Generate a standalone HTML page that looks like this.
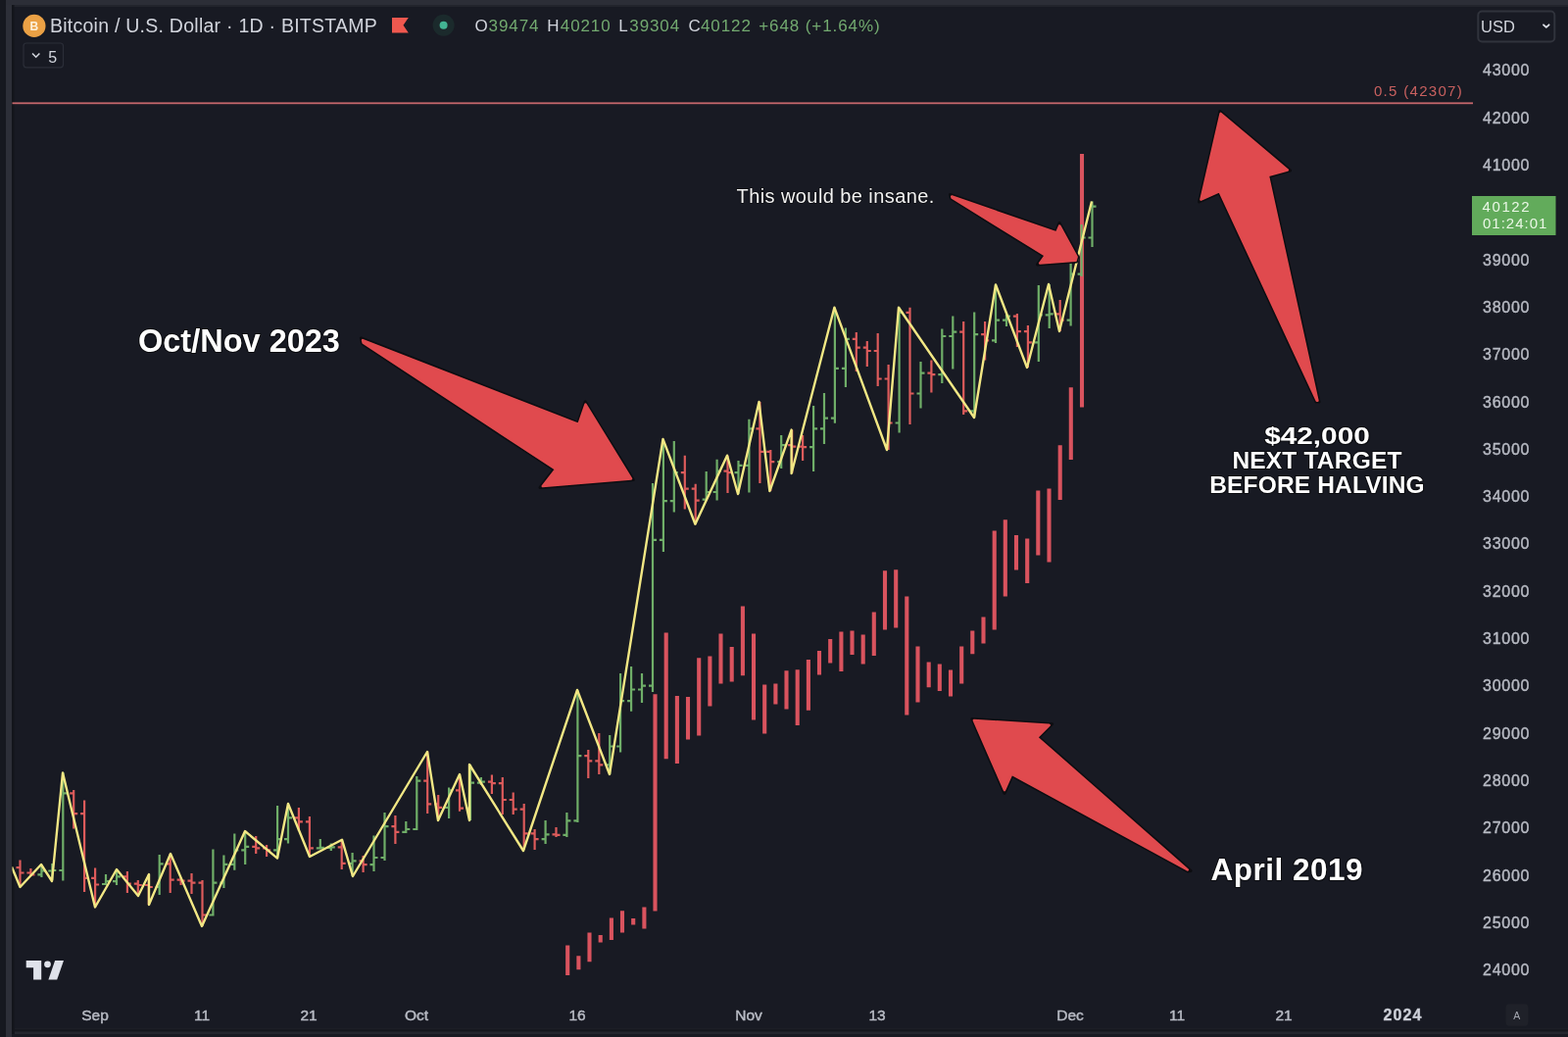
<!DOCTYPE html>
<html><head><meta charset="utf-8"><title>BTCUSD chart</title>
<style>
html,body{margin:0;padding:0;background:#181a23;}
body{width:1600px;height:1058px;overflow:hidden;position:relative;font-family:"Liberation Sans",Arial,sans-serif;}
</style></head><body>
<svg width="1600" height="1058" viewBox="0 0 1600 1058" style="position:absolute;left:0;top:0">
<rect x="0" y="0" width="1600" height="1058" fill="#181a23"/>
<rect x="0" y="0" width="1600" height="5" fill="#2c2e37"/>
<rect x="0" y="5" width="1600" height="2" fill="#22242c"/>
<rect x="0" y="0" width="6" height="1058" fill="#16181f"/>
<rect x="6" y="5" width="6" height="1058" fill="#2d2f38"/>
<rect x="12" y="5" width="2.5" height="1058" fill="#13151b"/>
<rect x="15" y="1048.7" width="1585" height="1.8" fill="#1c1e26"/><rect x="15" y="1050.5" width="1585" height="2" fill="#15171d"/>
<rect x="15" y="1052.5" width="1585" height="2.5" fill="#24262e"/>
<rect x="12" y="1055" width="1588" height="3" fill="#181a22"/>
<defs><clipPath id="cp"><rect x="12.5" y="7" width="1492" height="1040"/></clipPath></defs>
<g clip-path="url(#cp)">
<rect x="12" y="104.4" width="1491" height="1.8" fill="#c4666b"/>
<path d="M579.2 964.5V995M590.4 975.2V989.3M601.5 951.5V981.3M612.7 953.9V961.5M623.9 936.5V959M635 929.3V951.5M646.2 936.9V943.5M657.4 925.5V947.5M668.5 708.2V929.5M679.7 645.5V774.3M690.9 710.1V779M702 711V754.5M713.2 671.3V750.5M724.4 669.5V720.5M735.5 646.5V697.5M746.7 660V695.5M757.9 618.5V689.2M769 646.5V734.5M780.2 698.5V748.5M791.4 697.5V718.5M802.5 684.2V723.5M813.7 683.3V739.9M824.9 672.9V724.8M836 664V688.5M847.2 652.1V676.5M858.4 644.5V685.1M869.5 643.5V668.1M880.7 647.5V677.5M891.8 624.5V669.1M903 582.2V642.5M914.2 581.3V640.5M925.3 608.5V729.5M936.5 659.5V716.5M947.7 675.5V701.2M958.8 677.5V705M970 683.5V710.5M981.2 659.5V697.5M992.3 643.5V667.2M1003.5 629.5V656.5M1014.7 541.5V642.5M1025.8 530.2V608.5M1037 546.1V581.5M1048.2 549.5V595M1059.3 500.5V566.5M1070.5 498.5V573.5M1081.7 454.2V509.9M1092.8 395.2V469.1M1104 157.1V415.5" stroke="#d9535e" stroke-width="4.1" stroke-linecap="butt" fill="none"/>

<path d="M42.4 882V895M38.4 892.4H42.4M42.4 888.5H46.4M53.3 881V898M49.3 888.5H53.3M53.3 888H57.3M64.3 788V898.5M60.3 888H64.3M64.3 809.3H68.3M108 892V903M104 902H108M108 899.2H112M119 887V903M115 899.2H119M119 894.3H123M162.7 872V913M158.7 905H162.7M162.7 881.3H166.7M217.4 866.5V934.6M213.4 933.5H217.4M217.4 900.6H221.4M228.4 872.6V906M224.4 900.6H228.4M228.4 881.8H232.4M239.3 850.6V887.7M235.3 881.8H239.3M239.3 867.3H243.3M250.2 848V882M246.2 867.3H250.2M250.2 863.9H254.2M283.1 822V875.6M279.1 867.3H283.1M283.1 856.2H287.1M294 819.7V860.5M290 856.2H294M294 834.4H298M326.8 856V866.5M322.8 865.3H326.8M326.8 864.8H330.8M337.8 860.5V868M333.8 864.8H337.8M337.8 864.4H341.8M359.6 870V894M355.6 880.8H359.6M359.6 878.4H363.6M381.5 852.6V889M377.5 882.2H381.5M381.5 875H385.5M392.5 829V878M388.5 875H392.5M392.5 843.1H396.5M414.3 838V850M410.3 848.9H414.3M414.3 846H418.3M425.3 792V847M421.3 846H425.3M425.3 796.7H429.3M458.1 803.5V835M454.1 823.8H458.1M458.1 806.4H462.1M480 780V837M476 824.7H480M480 798.7H484M490.9 793V801M486.9 798.7H490.9M490.9 797.7H494.9M556.6 837V861M552.6 856.2H556.6M556.6 851.3H560.6M578.4 829V854M574.4 851.8H578.4M578.4 837.3H582.4M589.4 704V839M585.4 837.3H589.4M589.4 771.1H593.4M622.2 750V790M618.2 780.3H622.2M622.2 761.5H626.2M633.1 687V767.5M629.1 761.5H633.1M633.1 715.1H637.1M644.1 680V725.8M640.1 715.1H644.1M644.1 703.5H648.1M655 687V717M651 703.5H655M655 699.6H659M666 493V706M662 699.6H666M666 550.8H670M676.9 448V563M672.9 550.8H676.9M676.9 511.2H680.9M687.8 450V522.6M683.8 511.2H687.8M687.8 482.2H691.8M720.7 481V510.6M716.7 509.6H720.7M720.7 502H724.7M731.6 468.8V510.6M727.6 502H731.6M731.6 480.7H735.6M753.5 470V504M749.5 482.2H753.5M753.5 474.9H757.5M764.4 427.8V502.5M760.4 474.9H764.4M764.4 437.3H768.4M797.2 444V478M793.2 471.1H797.2M797.2 454.2H801.2M830.1 414V481M826.1 456.1H830.1M830.1 437.3H834.1M841 401V453M837 437.3H841M841 426.6H845M851.9 313.7V431.8M847.9 426.6H851.9M851.9 375.9H855.9M862.9 334.6V395M858.9 375.9H862.9M862.9 345.9H866.9M917.6 313.7V441.5M913.6 431.5H917.6M917.6 318.9H921.6M939.5 369V416.6M935.5 401.5H939.5M939.5 380.7H943.5M961.3 335.5V391M957.3 382.2H961.3M961.3 343H965.3M972.3 322.6V376.5M968.3 343H972.3M972.3 338.7H976.3M994.2 318.6V426M990.2 419.4H994.2M994.2 341.1H998.2M1016 290.5V350M1012 347.4H1016M1016 326.6H1020M1027 321V333M1023 326.6H1027M1027 322.7H1031M1059.8 291V369M1055.8 349.3H1059.8M1059.8 321.3H1063.8M1070.7 290V335M1066.7 321.3H1070.7M1070.7 320.3H1074.7M1092.6 266V332.5M1088.6 326.6H1092.6M1092.6 279.7H1096.6M1103.6 229V282M1099.6 279.7H1103.6M1103.6 242.5H1107.6M1114.5 205.5V252M1110.5 242.5H1114.5M1114.5 210.6H1118.5" stroke="#6fae68" stroke-width="2.2" fill="none"/>
<path d="M20.5 877.6V905M16.5 885.1H20.5M20.5 890.5H24.5M31.4 886V894M27.4 890.5H31.4M31.4 892.4H35.4M75.2 806V845.5M71.2 809.3H75.2M75.2 830.1H79.2M86.1 816.6V910M82.1 830.1H86.1M86.1 895.8H90.1M97.1 885.4V925.5M93.1 895.8H97.1M97.1 902.5H101.1M129.9 889V911M125.9 894.3H129.9M129.9 901.6H133.9M140.8 898V913M136.8 901.6H140.8M140.8 903H144.8M151.8 892V923M147.8 903H151.8M151.8 905H155.8M173.7 871V911M169.7 881.3H173.7M173.7 897.7H177.7M184.6 895V903M180.6 897.7H184.6M184.6 898.7H188.6M195.5 891V912M191.5 898.7H195.5M195.5 900.6H199.5M206.5 898V945M202.5 900.6H206.5M206.5 933.5H210.5M261.2 853V871M257.2 863.9H261.2M261.2 865.3H265.2M272.1 862V874M268.1 865.3H272.1M272.1 867.3H276.1M304.9 824V848M300.9 834.4H304.9M304.9 838.3H308.9M315.9 833V874M311.9 838.3H315.9M315.9 865.3H319.9M348.7 856.7V887M344.7 864.4H348.7M348.7 880.8H352.7M370.6 873V890M366.6 878.4H370.6M370.6 882.2H374.6M403.4 832V861M399.4 843.1H403.4M403.4 848.9H407.4M436.2 766.5V830M432.2 796.7H436.2M436.2 820.4H440.2M447.2 811V837M443.2 820.4H447.2M447.2 823.8H451.2M469 790V827.7M465 806.4H469M469 824.7H473M501.9 790.5V810M497.9 797.7H501.9M501.9 799.1H505.9M512.8 793V831M508.8 799.1H512.8M512.8 816H516.8M523.7 808.5V831M519.7 816H523.7M523.7 825.7H527.7M534.7 820V867M530.7 825.7H534.7M534.7 850.4H538.7M545.6 846V867M541.6 850.4H545.6M545.6 856.2H549.6M567.5 844V854M563.5 851.3H567.5M567.5 851.8H571.5M600.3 765V794M596.3 771.1H600.3M600.3 776.4H604.3M611.3 748V790M607.3 776.4H611.3M611.3 780.3H615.3M698.8 464.7V519.4M694.8 482.2H698.8M698.8 498.6H702.8M709.7 493.7V534.7M705.7 498.6H709.7M709.7 510.7H713.7M742.5 464.7V503M738.5 480.7H742.5M742.5 482.2H746.5M775.4 410V493M771.4 437.3H775.4M775.4 460.9H779.4M786.3 459V501M782.3 460.9H786.3M786.3 471.1H790.3M808.2 438.6V483M804.2 454.2H808.2M808.2 455.6H812.2M819.1 444V470M815.1 455.6H819.1M819.1 456.1H823.1M873.8 339V379M869.8 345.9H873.8M873.8 354.6H877.8M884.8 348V374M880.8 354.6H884.8M884.8 358H888.8M895.7 340V394M891.7 358H895.7M895.7 386.5H899.7M906.6 372V459M902.6 386.5H906.6M906.6 431.5H910.6M928.5 313.7V433M924.5 318.9H928.5M928.5 401.5H932.5M950.4 367.6V400.6M946.4 380.7H950.4M950.4 382.2H954.4M983.2 328V423M979.2 338.7H983.2M983.2 419.4H987.2M1005.1 328V367.6M1001.1 341.1H1005.1M1005.1 347.4H1009.1M1037.9 320V354M1033.9 322.7H1037.9M1037.9 338.2H1041.9M1048.9 332V375M1044.9 338.2H1048.9M1048.9 349.3H1052.9M1081.7 306V338M1077.7 320.3H1081.7M1081.7 326.6H1085.7" stroke="#dd5b5b" stroke-width="2.2" fill="none"/>

<polyline points="12,884.5 20.5,905 42,882 53,899 64,788.5 97,925.5 119,887 141,914 152,892 152,923 174,871 206,945 250,848 283,875.6 294,820 316,874 349,856.7 360,894 436,767 447,837 469,790 479,837 479,780 534,868 589,704 622,790 676.5,448 709.4,534.7 742,464.7 753,504 774.5,410 785.4,501 807.6,438.6 807.6,483 851.4,313.7 905,459 917,313.7 994,426 1016,290.5 1048,375 1070,290 1081,338 1114,205.5" stroke="#f2e784" stroke-width="2.4" fill="none" stroke-linejoin="round"/>

<polygon points="368.4,345 589.7,431.3 597.2,409.7 646.2,489.6 551,497.5 565.3,479 369.5,350.5" fill="#0c0d11" stroke="#0c0d11" stroke-width="3" stroke-linejoin="round"/>
<polygon points="370.1,347.1 370.7,349.7 567.2,478.7 553.8,496 644,488.5 597.5,412.7 590.5,433" fill="#e04a4e" stroke="#e04a4e" stroke-width="2.6" stroke-linejoin="round"/>
<polygon points="969.5,198.5 1077.5,236 1081,227.5 1100,262 1098.5,267 1058.5,270 1065,261 970.5,202.5" fill="#0c0d11" stroke="#0c0d11" stroke-width="3" stroke-linejoin="round"/>
<polygon points="971.3,200.5 971.6,201.7 1066.9,260.6 1061.2,268.5 1097.5,265.8 1098.6,262.1 1081.2,230.5 1078.2,237.6" fill="#e04a4e" stroke="#e04a4e" stroke-width="2.6" stroke-linejoin="round"/>
<polygon points="1244.8,113.6 1316.5,174 1295.3,180 1346,410 1343,410 1243.9,196.8 1223.6,205.9" fill="#0c0d11" stroke="#0c0d11" stroke-width="3" stroke-linejoin="round"/>
<polygon points="1245.6,116 1225.5,203.6 1244.5,195.1 1343.8,408.7 1344.4,408.7 1293.8,179.1 1313.8,173.4" fill="#e04a4e" stroke="#e04a4e" stroke-width="2.6" stroke-linejoin="round"/>
<polygon points="991.9,733.6 1073.6,738.7 1060,752.3 1215,888.5 1212,889 1032.8,791.5 1025,809.3" fill="#0c0d11" stroke="#0c0d11" stroke-width="3" stroke-linejoin="round"/>
<polygon points="993.9,735 1025,806.1 1032.2,789.7 1211.8,887.4 1058.1,752.4 1070.6,739.8" fill="#e04a4e" stroke="#e04a4e" stroke-width="2.6" stroke-linejoin="round"/>

</g>
<text x="1493" y="98.4" text-anchor="end" font-family="Liberation Sans, Arial, sans-serif" font-size="15" fill="#c8605f" letter-spacing="1.3">0.5 (42307)</text>
<g font-family="Liberation Sans, Arial, sans-serif" font-size="16" fill="#b8bbc4" stroke="#b8bbc4" stroke-width="0.4">
<text x="1513" y="77.1" textLength="47.5" lengthAdjust="spacing">43000</text>
<text x="1513" y="125.6" textLength="47.5" lengthAdjust="spacing">42000</text>
<text x="1513" y="173.9" textLength="47.5" lengthAdjust="spacing">41000</text>
<text x="1513" y="270.6" textLength="47.5" lengthAdjust="spacing">39000</text>
<text x="1513" y="318.9" textLength="47.5" lengthAdjust="spacing">38000</text>
<text x="1513" y="367.2" textLength="47.5" lengthAdjust="spacing">37000</text>
<text x="1513" y="415.5" textLength="47.5" lengthAdjust="spacing">36000</text>
<text x="1513" y="463.8" textLength="47.5" lengthAdjust="spacing">35000</text>
<text x="1513" y="512.1" textLength="47.5" lengthAdjust="spacing">34000</text>
<text x="1513" y="560.4" textLength="47.5" lengthAdjust="spacing">33000</text>
<text x="1513" y="608.7" textLength="47.5" lengthAdjust="spacing">32000</text>
<text x="1513" y="657" textLength="47.5" lengthAdjust="spacing">31000</text>
<text x="1513" y="705.3" textLength="47.5" lengthAdjust="spacing">30000</text>
<text x="1513" y="753.6" textLength="47.5" lengthAdjust="spacing">29000</text>
<text x="1513" y="801.9" textLength="47.5" lengthAdjust="spacing">28000</text>
<text x="1513" y="850.2" textLength="47.5" lengthAdjust="spacing">27000</text>
<text x="1513" y="898.5" textLength="47.5" lengthAdjust="spacing">26000</text>
<text x="1513" y="946.8" textLength="47.5" lengthAdjust="spacing">25000</text>
<text x="1513" y="995.1" textLength="47.5" lengthAdjust="spacing">24000</text>
</g>
<g font-family="Liberation Sans, Arial, sans-serif" font-size="15.5" fill="#b8bbc4" stroke="#b8bbc4" stroke-width="0.45" text-anchor="middle">
<text x="97" y="1040.5">Sep</text>
<text x="206" y="1040.5">11</text>
<text x="315" y="1040.5">21</text>
<text x="425" y="1040.5">Oct</text>
<text x="589" y="1040.5">16</text>
<text x="764" y="1040.5">Nov</text>
<text x="895" y="1040.5">13</text>
<text x="1092" y="1040.5">Dec</text>
<text x="1201" y="1040.5">11</text>
<text x="1310" y="1040.5">21</text>
<text x="1431.5" y="1040.5" font-weight="bold" font-size="16" letter-spacing="1.1" fill="#d1d4dc">2024</text>
</g>

<rect x="1502" y="200" width="85.5" height="40" fill="#62ab5b"/>
<g font-family="Liberation Sans, Arial, sans-serif" font-size="15" fill="#eaf7e6" letter-spacing="1"><text x="1512.5" y="215.6" letter-spacing="1.6">40122</text><text x="1513" y="233.2">01:24:01</text></g>
<rect x="1508.3" y="11.5" width="78" height="31" rx="4" fill="none" stroke="#30333c" stroke-width="2"/>
<text x="1511" y="32.7" font-family="Liberation Sans, Arial, sans-serif" font-size="16.5" fill="#d1d4dc">USD</text>
<path d="M1575 25.3l2.8 2.6 2.8-2.6" stroke="#e0e3ea" stroke-width="1.8" fill="none" stroke-linecap="round" stroke-linejoin="round"/>
<rect x="1536.5" y="1024.3" width="23" height="22.5" rx="4" fill="#1f2129"/>
<text x="1547.8" y="1039.8" text-anchor="middle" font-family="Liberation Sans, Arial, sans-serif" font-size="10.5" fill="#a3a6af">A</text>
<g fill="#dfe2ea"><path d="M26.7 980H42.2V999.6H34.1V987.2H26.7Z"/><circle cx="48.5" cy="983.8" r="3.4"/><path d="M56.1 980H65L58.2 999.6H49.4Z"/></g>
<circle cx="34.9" cy="26.4" r="11.6" fill="#eba145"/>
<text x="34.9" y="31.3" text-anchor="middle" font-family="Liberation Sans, Arial, sans-serif" font-size="12" font-weight="bold" fill="#fdf0da">B</text>
<text x="51" y="32.8" font-family="Liberation Sans, Arial, sans-serif" font-size="19.5" letter-spacing="0.25" fill="#d1d4dc">Bitcoin / U.S. Dollar · 1D · BITSTAMP</text>
<path d="M400 18H416.8L411.5 25.8L416.8 33.6H400Z" fill="#f0584f"/>
<circle cx="452.6" cy="25.8" r="11" fill="#1b2a2c"/><circle cx="452.6" cy="25.8" r="4" fill="#42b493"/>
<g font-family="Liberation Sans, Arial, sans-serif" font-size="17" letter-spacing="0.9">
<text x="484.6" y="31.9" fill="#d1d4dc">O</text>
<text x="498.6" y="31.9" fill="#72a96f">39474</text>
<text x="558.2" y="31.9" fill="#d1d4dc">H</text>
<text x="571.8" y="31.9" fill="#72a96f">40210</text>
<text x="631.3" y="31.9" fill="#d1d4dc">L</text>
<text x="642.3" y="31.9" fill="#72a96f">39304</text>
<text x="702.5" y="31.9" fill="#d1d4dc">C</text>
<text x="715" y="31.9" fill="#72a96f">40122</text>
<text x="774.3" y="31.9" fill="#72a96f">+648 (+1.64%)</text>
</g>
<rect x="24" y="44" width="40.5" height="24.8" rx="3" fill="none" stroke="#2b2e38" stroke-width="1.2"/>
<path d="M33 54.5l3.7 3.7 3.7-3.7" stroke="#d1d4dc" stroke-width="1.6" fill="none"/>
<text x="49.3" y="63.6" font-family="Liberation Sans, Arial, sans-serif" font-size="16" fill="#d1d4dc">5</text>
<g font-family="Liberation Sans, Arial, sans-serif" fill="#ffffff" stroke="#0b0c10" stroke-width="2.2" paint-order="stroke" stroke-linejoin="round">
<text x="141" y="359" font-size="32.5" font-weight="bold">Oct/Nov 2023</text>
<text x="751.5" y="206.6" font-size="20" letter-spacing="0.42" fill="#f2f2f2" stroke-width="1.5">This would be insane.</text>
<g font-size="24.5" font-weight="bold" text-anchor="middle"><text x="1344" y="452.6" textLength="107.6" lengthAdjust="spacingAndGlyphs">$42,000</text><text x="1344" y="478" letter-spacing="0.2">NEXT TARGET</text><text x="1344" y="503.2" letter-spacing="0.15">BEFORE HALVING</text></g>
<text x="1235.5" y="898" font-size="31.5" letter-spacing="0.5" font-weight="bold">April 2019</text>
</g>
</svg>
</body></html>
